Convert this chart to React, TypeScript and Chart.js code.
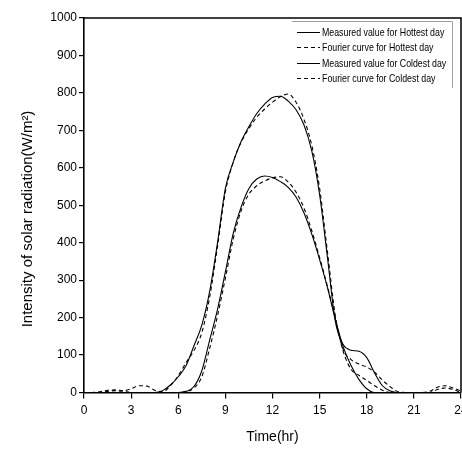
import { useEffect, useRef } from 'react';
import { Chart, registerables } from 'chart.js';

Chart.register(...registerables);

const hours = [
  0, 0.5, 1, 1.5, 2, 2.5, 3, 3.5, 4, 4.5, 5, 5.5, 6, 6.5, 7, 7.5, 8, 8.5, 9, 9.5,
  10, 10.5, 11, 11.5, 12, 12.5, 13, 13.5, 14, 14.5, 15, 15.5, 16, 16.5, 17, 17.5,
  18, 18.5, 19, 19.5, 20, 20.5, 21, 21.5, 22, 22.5, 23, 23.5, 24,
];

const hotMeasured = [
  0, 0, 0, 0, 0, 0, 0, 0, 0, 0, 5, 20, 42, 72, 125, 180, 270, 400, 545, 615,
  670, 710, 745, 770, 788, 791, 778, 755, 715, 645, 528, 360, 190, 128, 113, 110,
  93, 52, 18, 4, 0, 0, 0, 0, 0, 0, 0, 0, 0,
];

const hotFourier = [
  0, 0, 2, 6, 7, 5, 10, 18, 17, 6, 2, 18, 45, 80, 112, 160, 255, 390, 535, 615,
  668, 705, 735, 757, 775, 790, 797, 775, 730, 660, 545, 375, 205, 115, 88, 76,
  68, 54, 33, 15, 2, 0, 0, 0, 3, 14, 18, 12, 4,
];

const coldMeasured = [
  0, 0, 0, 0, 0, 0, 0, 0, 0, 0, 0, 0, 0, 3, 16, 58, 140, 222, 322, 425,
  495, 545, 570, 578, 574, 563, 548, 522, 480, 423, 355, 280, 195, 122, 72, 35,
  10, 0, 0, 0, 0, 0, 0, 0, 0, 0, 0, 0, 0,
];

const coldFourier = [
  0, 0, 0, 3, 5, 3, 0, 0, 0, 0, 0, 0, 0, 2, 12, 42, 118, 205, 305, 410,
  485, 530, 552, 565, 573, 576, 562, 535, 493, 432, 360, 283, 197, 110, 62, 46,
  32, 18, 6, 0, 0, 0, 0, 0, 0, 8, 12, 8, 0,
];

const seriesLabels = [
  'Measured value for Hottest day',
  'Fourier curve for Hottest day',
  'Measured value for Coldest day',
  'Fourier curve for Coldest day',
];

const xTitle = 'Time(hr)';
const yTitle = 'Intensity of solar radiation(W/m\u00B2)';

const FONT = '"Liberation Sans", Arial, sans-serif';

const framePlugin = {
  id: 'frameAndLegend',
  afterDatasetsDraw(chart: any) {
    const { ctx, chartArea } = chart;
    ctx.save();
    // top and right border of plot box
    ctx.strokeStyle = '#000';
    ctx.lineWidth = 1.5;
    ctx.beginPath();
    ctx.moveTo(chartArea.left, chartArea.top);
    ctx.lineTo(chartArea.right, chartArea.top);
    ctx.lineTo(chartArea.right, chartArea.bottom);
    ctx.stroke();

    // y axis title (placed as in the reference, slightly below centre)
    ctx.save();
    ctx.translate(28, 219);
    ctx.rotate(-Math.PI / 2);
    ctx.fillStyle = '#000';
    ctx.font = '15px ' + FONT;
    ctx.textAlign = 'center';
    ctx.textBaseline = 'middle';
    ctx.fillText(yTitle, 0, 0);
    ctx.restore();

    // legend frame
    ctx.strokeStyle = '#a0a0a0';
    ctx.lineWidth = 1;
    ctx.beginPath();
    ctx.moveTo(292, 21.5);
    ctx.lineTo(452.5, 21.5);
    ctx.lineTo(452.5, 88);
    ctx.stroke();

    chart.data.datasets.forEach((ds: any, i: number) => {
      const y = Math.round(31.5 + i * 15.5) + 0.5;
      ctx.strokeStyle = '#000';
      ctx.lineWidth = 1;
      ctx.setLineDash(ds.borderDash || []);
      ctx.beginPath();
      ctx.moveTo(297, y);
      ctx.lineTo(320, y);
      ctx.stroke();
      ctx.setLineDash([]);
      ctx.save();
      ctx.translate(322, y);
      ctx.scale(0.8, 1);
      ctx.fillStyle = '#000';
      ctx.font = '11px ' + FONT;
      ctx.textBaseline = 'middle';
      ctx.textAlign = 'left';
      ctx.fillText(ds.label, 0, 0);
      ctx.restore();
    });
    ctx.restore();
  },
};

export default function App() {
  const canvasRef = useRef<HTMLCanvasElement | null>(null);

  useEffect(() => {
    document.body.style.margin = '0';
    const canvas = canvasRef.current;
    if (!canvas) return;
    const mk = (data: number[], i: number, dashed: boolean) => ({
      label: seriesLabels[i],
      data: hours.map((h, k) => ({ x: h, y: data[k] })),
      borderColor: '#000',
      backgroundColor: '#000',
      borderWidth: 1.1,
      borderDash: dashed ? [4, 3] : [],
      pointRadius: 0,
      fill: false,
      cubicInterpolationMode: 'monotone' as const,
    });
    const chart = new Chart(canvas, {
      type: 'line',
      data: {
        datasets: [
          mk(hotMeasured, 0, false),
          mk(hotFourier, 1, true),
          mk(coldMeasured, 2, false),
          mk(coldFourier, 3, true),
        ],
      },
      options: {
        responsive: false,
        animation: false,
        layout: { padding: { top: 18, right: 16, bottom: 0, left: 0 } },
        plugins: {
          legend: { display: false },
          tooltip: { enabled: false },
        },
        scales: {
          x: {
            type: 'linear',
            min: 0,
            max: 24,
            afterFit: (s: any) => {
              s.height = 56.5;
            },
            ticks: {
              stepSize: 3,
              color: '#000',
              padding: 5,
              maxRotation: 0,
              font: { family: FONT, size: 12 },
              callback: (v: any) => String(v),
            },
            grid: {
              drawOnChartArea: false,
              drawTicks: true,
              tickLength: 6,
              color: '#000',
              lineWidth: 1.2,
            },
            border: { display: true, color: '#000', width: 1.6 },
            title: {
              display: true,
              text: xTitle,
              color: '#000',
              font: { family: FONT, size: 14 },
              padding: { top: 0, bottom: 3 },
            },
          },
          y: {
            type: 'linear',
            min: 0,
            max: 1000,
            afterFit: (s: any) => {
              s.width = 84;
            },
            ticks: {
              stepSize: 100,
              color: '#000',
              padding: 2,
              font: { family: FONT, size: 12 },
              callback: (v: any) => String(v),
            },
            grid: {
              drawOnChartArea: false,
              drawTicks: true,
              tickLength: 5,
              color: '#000',
              lineWidth: 1.2,
            },
            border: { display: true, color: '#000', width: 1.6 },
            title: { display: false },
          },
        },
      },
      plugins: [framePlugin],
    });
    return () => chart.destroy();
  }, []);

  return (
    <div style={{ width: 462, height: 449, overflow: 'hidden', position: 'relative' }}>
      <canvas
        ref={canvasRef}
        width={477}
        height={449}
        style={{ display: 'block', width: 477, height: 449 }}
      />
    </div>
  );
}
